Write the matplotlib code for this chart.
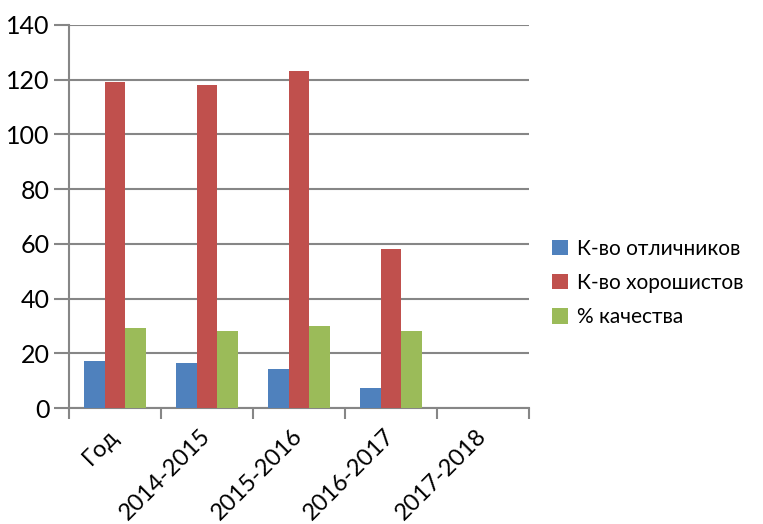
import matplotlib
matplotlib.use("Agg")
import matplotlib.pyplot as plt
import numpy as np

categories = ["Год", "2014-2015", "2015-2016", "2016-2017", "2017-2018"]
otlichniki = [17.0, 16.3, 14.1, 7.2, 0]
horoshisty = [119.2, 118.1, 123.2, 58.1, 0]
kachestvo = [29.4, 28.0, 29.8, 28.0, 0]
series_names = ["К-во отличников", "К-во хорошистов", "% качества"]
colors = ["#4f81bd", "#c0504d", "#9bbb59"]

plt.rcParams['font.family'] = ['Lato', 'DejaVu Sans']

fig = plt.figure(figsize=(7.63, 5.24), dpi=100)
ax = fig.add_axes([69 / 763, 1 - 408 / 524, (529 - 69) / 763, (408 - 25) / 524])

x = np.arange(len(categories))
w = 0.225
for i, (vals, name, c) in enumerate(zip([otlichniki, horoshisty, kachestvo], series_names, colors)):
    ax.bar(x + (i - 1) * w, vals, width=w, color=c, label=name, zorder=3)

ax.set_xlim(-0.5, len(categories) - 0.5)
ax.set_ylim(0, 140)
ax.set_yticks(range(0, 141, 20))
ax.yaxis.grid(True, color="#868686", linewidth=1.5, zorder=0)
ax.tick_params(axis='y', length=11, width=1.5, color="#868686", labelsize=18, pad=3)

ax.set_xticks(np.arange(-0.5, len(categories), 1.0))
ax.set_xticklabels([])
ax.set_xticks(x, minor=True)
ax.set_xticklabels(categories, minor=True, rotation=45, ha='right', va='center',
                   rotation_mode='anchor', fontsize=17)
ax.tick_params(axis='x', which='major', length=8, width=1.5, color="#868686")
ax.tick_params(axis='x', which='minor', length=0, pad=18)

for s in ['top', 'right']:
    ax.spines[s].set_visible(False)
for s in ['left', 'bottom']:
    ax.spines[s].set_color("#868686")
    ax.spines[s].set_linewidth(1.5)

ax.legend(loc='center left', bbox_to_anchor=(542 / 763, 1 - 283 / 524), bbox_transform=fig.transFigure,
          frameon=False, fontsize=15, handlelength=0.75, handleheight=0.75, handletextpad=0.45,
          labelspacing=0.68, borderpad=0)

fig.savefig("out.png", dpi=100)
